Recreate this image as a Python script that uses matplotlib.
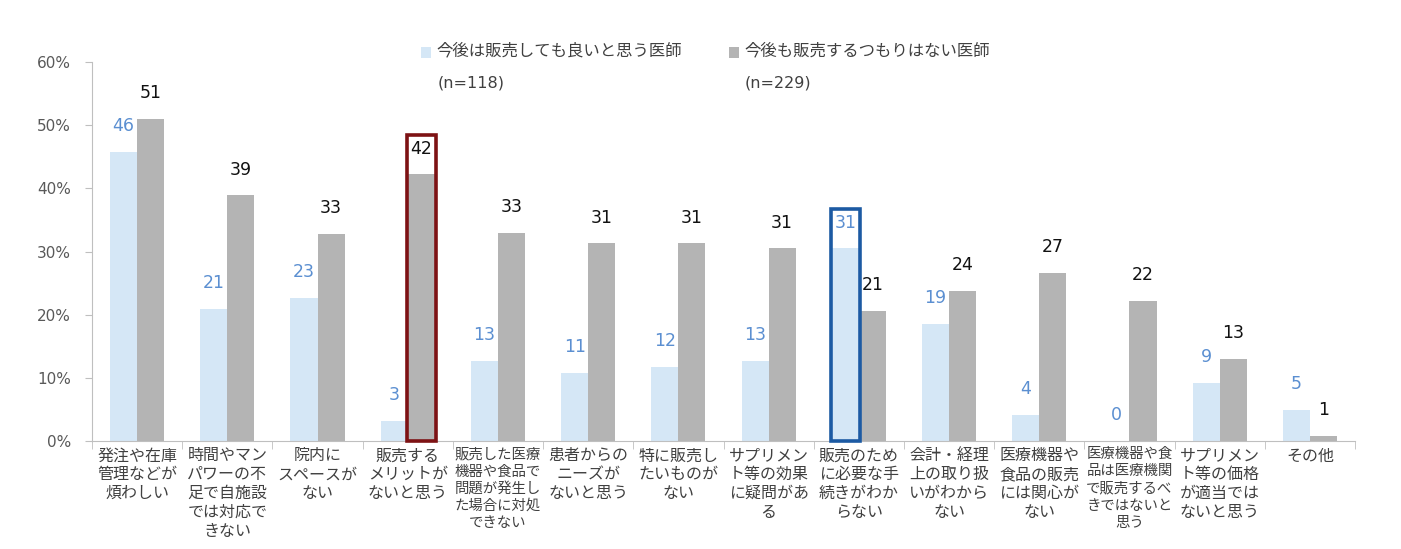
import matplotlib
matplotlib.use("Agg")
import matplotlib.pyplot as plt
from matplotlib.patches import Rectangle
import numpy as np

plt.rcParams['font.family'] = ['Noto Sans CJK JP', 'DejaVu Sans']
LATIN = ['DejaVu Sans', 'Noto Sans CJK JP']

categories = [
    "発注や在庫\n管理などが\n煩わしい",
    "時間やマン\nパワーの不\n足で自施設\nでは対応で\nきない",
    "院内に\nスペースが\nない",
    "販売する\nメリットが\nないと思う",
    "販売した医療\n機器や食品で\n問題が発生し\nた場合に対処\nできない",
    "患者からの\nニーズが\nないと思う",
    "特に販売し\nたいものが\nない",
    "サプリメン\nト等の効果\nに疑問があ\nる",
    "販売のため\nに必要な手\n続きがわか\nらない",
    "会計・経理\n上の取り扱\nいがわから\nない",
    "医療機器や\n食品の販売\nには関心が\nない",
    "医療機器や食\n品は医療機関\nで販売するべ\nきではないと\n思う",
    "サプリメン\nト等の価格\nが適当では\nないと思う",
    "その他",
]
willing = [45.8, 20.9, 22.7, 3.2, 12.7, 10.8, 11.7, 12.7, 30.5, 18.6, 4.1, 0.0, 9.2, 4.9]
not_willing = [51.0, 38.9, 32.8, 42.2, 33.0, 31.3, 31.3, 30.5, 20.6, 23.8, 26.6, 22.2, 13.0, 0.8]
willing_labels = [46, 21, 23, 3, 13, 11, 12, 13, 31, 19, 4, 0, 9, 5]
not_willing_labels = [51, 39, 33, 42, 33, 31, 31, 31, 21, 24, 27, 22, 13, 1]
legend_names = ["今後は販売しても良いと思う医師", "今後も販売するつもりはない医師"]
legend_n = ["(n=118)", "(n=229)"]
yticks = [0, 10, 20, 30, 40, 50, 60]
highlight_gray = 3
highlight_blue = 8

C_BLUE = "#d5e7f6"
C_GRAY = "#b4b4b4"
C_BLUE_TXT = "#5b8fd1"
C_TXT = "#404040"

fig = plt.figure(figsize=(14.01, 5.49), dpi=100)
ax = fig.add_axes([92/1401, 1-441/549, (1355-92)/1401, (441-62)/549])

n = len(categories)
x = np.arange(n)
w = 0.3
ax.bar(x - w/2, willing, w, color=C_BLUE, zorder=2)
ax.bar(x + w/2, not_willing, w, color=C_GRAY, zorder=2)

for i in range(n):
    ax.annotate(str(willing_labels[i]), (x[i] - w/2, willing[i]), xytext=(0, 18.5),
                textcoords="offset points", ha="center", va="center",
                fontsize=12.5, color=C_BLUE_TXT, zorder=4, family=LATIN)
    ax.annotate(str(not_willing_labels[i]), (x[i] + w/2, not_willing[i]), xytext=(0, 18.5),
                textcoords="offset points", ha="center", va="center",
                fontsize=12.5, color="#111111", zorder=4, family=LATIN)

# highlight boxes
pad = 0.01
rg = highlight_gray
ax.add_patch(Rectangle((x[rg] - pad, 0), w + 2*pad, not_willing[rg] + 6.3,
                       fill=False, edgecolor="#7d1214", linewidth=2.6, zorder=5, clip_on=False))
rb = highlight_blue
ax.add_patch(Rectangle((x[rb] - w - pad, 0), w + 2*pad, willing[rb] + 6.3,
                       fill=False, edgecolor="#1c5aa3", linewidth=2.6, zorder=5, clip_on=False))

ax.set_xlim(-0.5, n - 0.5)
ax.set_ylim(0, 60)
ax.set_yticks(yticks)
ax.set_yticklabels([f"{t}%" for t in yticks], fontsize=11, color="#595959", family=LATIN)
ax.tick_params(axis="y", length=5, color="#bfbfbf", pad=10)

ax.set_xticks(x)
ax.set_xticklabels([])
ax.tick_params(axis="x", which="major", length=0)
ax.set_xticks(np.arange(n + 1) - 0.5, minor=True)
ax.tick_params(axis="x", which="minor", length=6, color="#bfbfbf")

for i, lab in enumerate(categories):
    lines = lab.split("\n")
    if max(len(l) for l in lines) >= 6:
        fs, ls = 10.4, 1.28
    else:
        fs, ls = 11.5, 1.14
    ax.text(x[i], -1.0, lab, ha="center", va="top", fontsize=fs, color=C_TXT,
            linespacing=ls, transform=ax.transData)

for s in ["top", "right"]:
    ax.spines[s].set_visible(False)
for s in ["left", "bottom"]:
    ax.spines[s].set_color("#bfbfbf")

# legend
fig.patches.append(Rectangle((421/1401, 1-58/549), 10/1401, 11/549, transform=fig.transFigure,
                             facecolor=C_BLUE, edgecolor="none"))
fig.patches.append(Rectangle((729/1401, 1-58/549), 10/1401, 11/549, transform=fig.transFigure,
                             facecolor=C_GRAY, edgecolor="none"))
fig.text(436/1401, 1-51/549, legend_names[0], fontsize=11.8, color=C_TXT, va="center", ha="left")
fig.text(744/1401, 1-51/549, legend_names[1], fontsize=11.8, color=C_TXT, va="center", ha="left")
fig.text(438/1401, 1-83/549, legend_n[0], fontsize=11.5, color=C_TXT, va="center", ha="left",
         family=LATIN)
fig.text(745/1401, 1-83/549, legend_n[1], fontsize=11.5, color=C_TXT, va="center", ha="left",
         family=LATIN)

fig.savefig("out.png", dpi=100)
